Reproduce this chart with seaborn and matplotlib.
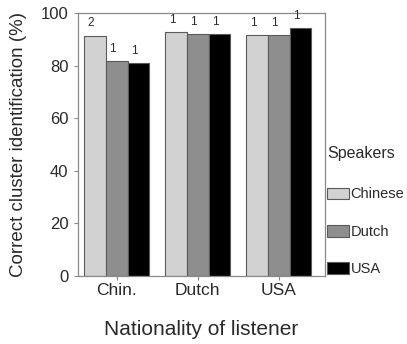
import matplotlib
matplotlib.use("Agg")
import matplotlib.pyplot as plt
import seaborn as sns
import pandas as pd

listeners = ["Chin.", "Dutch", "USA"]
speakers = ["Chinese", "Dutch", "USA"]
chinese_vals = [91.4, 92.8, 91.7]
dutch_vals = [81.6, 92.0, 91.5]
usa_vals = [81.0, 92.0, 94.3]
bar_labels = {
    "Chinese": ["2", "1", "1"],
    "Dutch": ["1", "1", "1"],
    "USA": ["1", "1", "1"],
}
colors = ["#d2d2d2", "#8e8e8e", "#000000"]

rows = []
for sp, vals in zip(speakers, [chinese_vals, dutch_vals, usa_vals]):
    for li, v in zip(listeners, vals):
        rows.append({"Listener": li, "Speakers": sp, "Value": v})
df = pd.DataFrame(rows)

sns.set_theme(style="white")
plt.rcParams['font.family'] = ['Liberation Sans', 'DejaVu Sans']

fig = plt.figure(figsize=(4.07, 3.44), dpi=100)
ax = fig.add_axes([0.1916, 0.1977, 0.6069, 0.7645])

sns.barplot(data=df, x="Listener", y="Value", hue="Speakers",
            order=listeners, hue_order=speakers, palette=colors,
            width=0.8, edgecolor="#5a5a5a", linewidth=0.8, ax=ax,
            errorbar=None, saturation=1)

# annotate bars
for cont, sp in zip(ax.containers, speakers):
    for patch, lab in zip(cont, bar_labels[sp]):
        x = patch.get_x() + patch.get_width() / 2
        y = patch.get_height()
        ax.annotate(lab, (x, y), xytext=(-3, 4.5), textcoords="offset points",
                    ha="center", va="bottom", fontsize=8.5, color="#2a2a2a")

ax.set_ylim(0, 100)
ax.set_xlim(-0.48, 2.57)
ax.set_yticks([0, 20, 40, 60, 80, 100])
ax.tick_params(axis="y", which="both", left=True, length=3, width=0.8,
               color="#888888", labelsize=12, labelcolor="#2a2a2a", pad=4)
ax.tick_params(axis="x", bottom=True, length=3, width=0.8, color="#888888",
               labelsize=12.5, labelcolor="#2a2a2a", pad=2)
for s in ax.spines.values():
    s.set_color("#8a8a8a")
    s.set_linewidth(0.9)

ax.set_ylabel("Correct cluster identification (%)", fontsize=13.5,
              color="#2a2a2a", labelpad=10)
ax.set_xlabel("Nationality of listener", fontsize=15, color="#2a2a2a",
              labelpad=16)

leg = ax.legend(title="Speakers", loc="upper left",
                bbox_to_anchor=(0.998, 0.505), frameon=False,
                fontsize=10.5, title_fontsize=11.5, handlelength=1.5,
                handleheight=0.85, handletextpad=0.1, labelspacing=1.6,
                borderaxespad=0.0, borderpad=0.2)
leg._legend_box.align = "left"
leg._legend_box.sep = 19
for t in leg.get_texts():
    t.set_color("#2a2a2a")
leg.get_title().set_color("#2a2a2a")

fig.savefig("out.png", dpi=100)
